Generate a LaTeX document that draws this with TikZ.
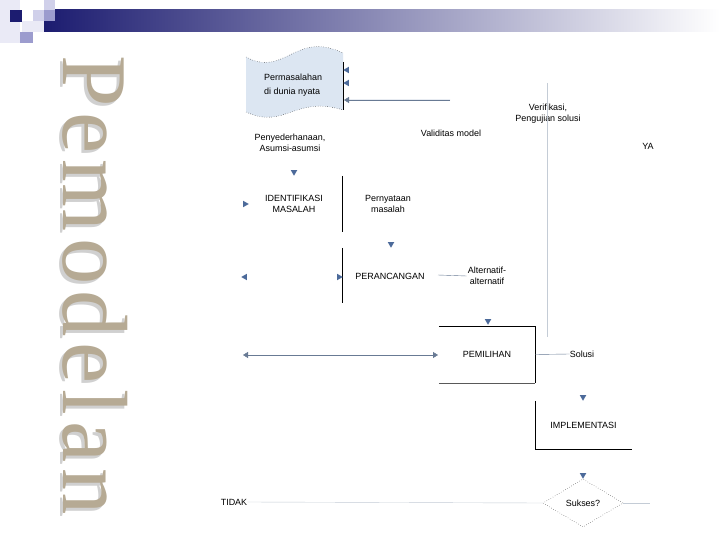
\documentclass[tikz,border=0pt]{standalone}
\usepackage{fontspec}
\setmainfont{Liberation Sans}
\newfontfamily\judulfont[LetterSpace=6.5]{Liberation Serif}
\usetikzlibrary{arrows.meta, shapes.geometric, positioning}

\definecolor{navy}{RGB}{28,28,112}
\definecolor{lavpale}{RGB}{234,234,246}
\definecolor{lavlight}{RGB}{208,208,234}
\definecolor{lavmid}{RGB}{156,156,206}
\definecolor{tipblue}{RGB}{76,106,154}
\definecolor{linkgray}{RGB}{104,122,148}
\definecolor{palegray}{RGB}{196,204,214}
\definecolor{tapefill}{RGB}{220,230,242}
\definecolor{stone}{RGB}{182,170,148}
\definecolor{stoneshade}{RGB}{208,208,208}

\begin{document}
\begin{tikzpicture}[
  x=1bp, y=-1bp,
  font=\fontsize{9}{11}\selectfont,
  lbl/.style={align=center, inner sep=1pt},
  box/.style={inner sep=0pt, align=center},
  tipdown/.style={regular polygon, regular polygon sides=3, regular polygon rotate=180,
                  fill=tipblue, inner sep=0pt, minimum size=7.5bp},
  tipleft/.style={tipdown, regular polygon rotate=90},
  tipright/.style={tipdown, regular polygon rotate=-90},
  arrow/.style={-{Triangle[length=5bp, width=6bp]}, draw=linkgray, fill=tipblue},
  link/.style={draw=linkgray},
  faint/.style={draw=palegray},
  judul/.style={font=\judulfont\fontsize{93}{93}\selectfont, rotate=-90,
                anchor=base west, inner sep=0pt}
]
\useasboundingbox[fill=white] (0,0) rectangle (720,540);

%% Header bar and squares
\fill[lavpale] (0,0) rectangle (20,43);
\shade[left color=navy, right color=white] (44,10) rectangle (720,32);
\fill[navy] (10,10) rectangle (22,22);
\fill[lavlight] (33,10) rectangle (44,21);
\fill[lavlight] (44,0) rectangle (55,10);
\fill[lavmid] (44,10) rectangle (55,21);
\fill[lavpale] (22,21) rectangle (44,32);
\fill[lavmid] (20,32) rectangle (33,43);

%% Vertical title
\node[judul, text=stoneshade] (judulbayang) at (60,58) {Pemodelan};
\node[judul, text=stone] (judul) at (63,55) {Pemodelan};

%% Real world problem (punched tape)
\fill[tapefill] (246,57) .. controls (285,78) and (295,30) .. (343,53)
  -- (343,110) .. controls (295,95) and (285,130) .. (246,112) -- cycle;
\draw[dotted] (246,57) .. controls (285,78) and (295,30) .. (343,53);
\draw[dotted] (246,112) .. controls (285,130) and (295,95) .. (343,110);
\draw (343,62) -- (343,110);
\node[lbl, align=left, anchor=west, font=\fontsize{9}{14}\selectfont] (nyata) at (263,85) {Permasalahan\\di dunia nyata};

\node[tipleft] (t1) at (347,70) {};
\node[tipleft] (t2) at (347,83) {};
\coordinate (masuk) at (344,100);
\coordinate (validasi) at (450,100);
\draw[arrow] (validasi) -- (masuk);

%% Labels upper part
\node[lbl] (sederhana) at (290,143) {Penyederhanaan,\\Asumsi-asumsi};
\node[lbl] (valid) at (451,133) {Validitas model};
\node[lbl] (verif) at (548,114) {Verifikasi,\\Pengujian solusi};
\node[lbl] (ya) at (648,146) {YA};
\coordinate (vtop) at (547,83);
\coordinate (vbot) at (547,337);
\draw[faint] (vtop) -- (vbot);

%% Identifikasi masalah
\node[tipdown] (t3) at (294,172) {};
\node[lbl] (identifikasi) at (294,204) {IDENTIFIKASI\\MASALAH};
\node[tipright] (t4) at (245,204) {};
\draw (342,176) -- (342,232);
\node[lbl] (pernyataan) at (388,204) {Pernyataan\\masalah};
\node[tipdown] (t5) at (391,244) {};

%% Perancangan
\node[tipleft] (t6) at (245,277) {};
\draw (342,248) -- (342,303);
\node[tipright] (t7) at (339,277) {};
\node[lbl] (rancang) at (390,276) {PERANCANGAN};
\node[lbl] (alternatif) at (487,276) {Alternatif-\\alternatif};
\coordinate (rancangout) at (438,275);
\draw[link] (rancangout) -- (alternatif.west);
\node[tipdown] (t8) at (488,321) {};

%% Pemilihan
\node[box, minimum width=96bp, minimum height=57bp] (pemilihan) at (487,354.5) {PEMILIHAN};
\draw (pemilihan.north west) -- (pemilihan.north east) -- (pemilihan.south east);
\draw[draw=black!65] (pemilihan.south west) -- (pemilihan.south east);
\coordinate (kiri) at (243,355);
\coordinate (pilihin) at (438,355);
\draw[arrow, {Triangle[length=5bp, width=6bp]}-{Triangle[length=5bp, width=6bp]}] (kiri) -- (pilihin);
\node[lbl, inner sep=0pt] (solusi) at (582,354) {Solusi};
\draw[link] (pemilihan.east) -- (solusi.west);
\node[tipdown] (t9) at (583,397) {};

%% Implementasi
\node[box, minimum width=97bp, minimum height=48bp] (implementasi) at (583.5,425) {IMPLEMENTASI};
\draw (implementasi.north west) -- (implementasi.south west) -- (implementasi.south east);
\node[tipdown] (t10) at (583,475) {};

%% Sukses?
\node[diamond, draw, dotted, inner sep=0pt, minimum width=80bp, minimum height=48bp] (sukses) at (583,503) {};
\node[lbl] (suksestxt) at (sukses.center) {Sukses?};
\node[lbl, inner sep=0pt] (tidak) at (234,502) {TIDAK};
\coordinate (yaout) at (650,503);
\draw[faint] (tidak.east) -- (sukses.west);
\draw[faint] (sukses.east) -- (yaout);

\end{tikzpicture}
\end{document}
